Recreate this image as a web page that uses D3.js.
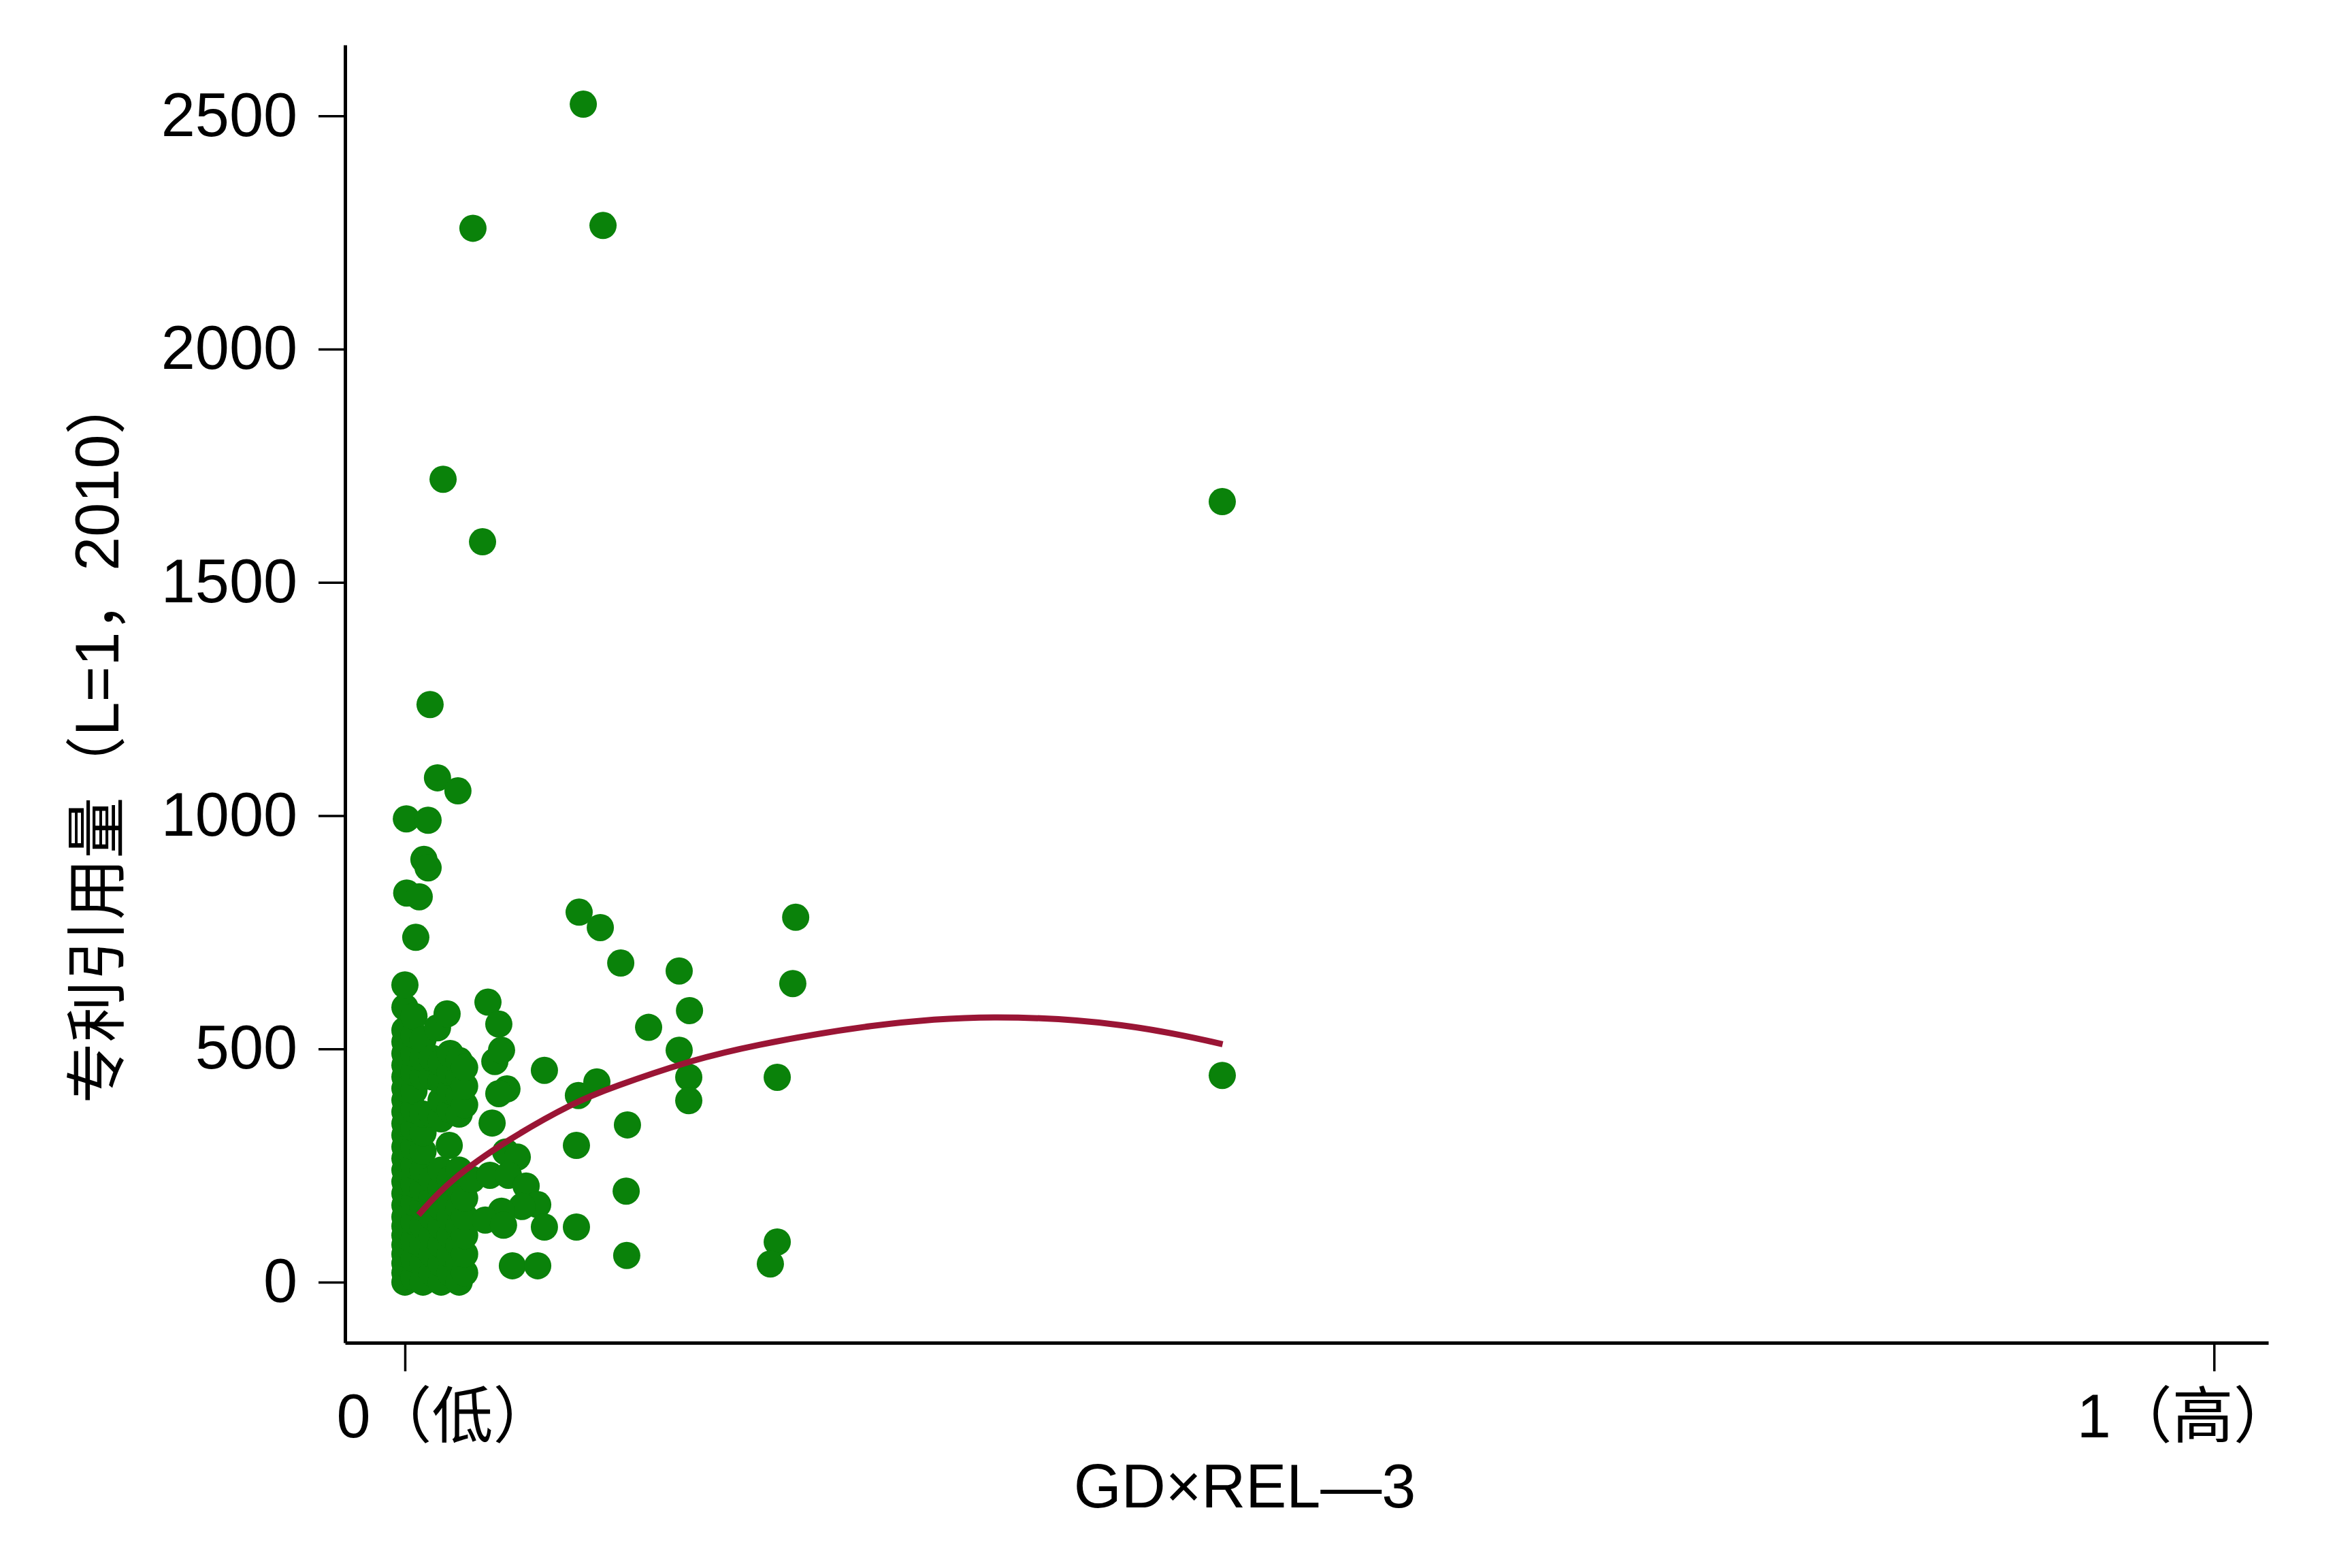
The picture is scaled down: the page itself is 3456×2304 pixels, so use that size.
<!DOCTYPE html>
<html>
<head>
<meta charset="utf-8">
<script src="https://cdn.jsdelivr.net/npm/d3@7"></script>
<style>
    body { margin: 0; background: #ffffff; }
    text { font-family: "Liberation Sans", "Noto Sans CJK SC", sans-serif; }
</style>
</head>
<body>
<div id="chart"></div>
<script>
// axis ticks and titles
var yTicks = [0, 500, 1000, 1500, 2000, 2500];
var xTicks = [0, 1];
var xTickLabels = ["0（低）", "1（高）"];
var xTitle = "GD×REL—3";
var yTitle = "专利引用量（L=1，2010）";

// scattered firms, [GD×REL-3, patent citations]
var outliers = [
    [0.0986, 2525], [0.0376, 2259], [0.1095, 2265], [0.0211, 1721], [0.0429, 1587],
    [0.4518, 1673], [0.0139, 1238], [0.0180, 1081], [0.0293, 1053], [0.0008, 993],
    [0.0128, 990], [0.0105, 906], [0.0128, 888], [0.0010, 834], [0.0079, 826],
    [0.0060, 739], [0.0963, 793], [0.1080, 760], [0.2160, 782], [0.1193, 684],
    [0.1516, 667], [0.2144, 640], [0.1573, 582], [0.1347, 546], [0.1516, 497],
    [0.1569, 439], [0.1569, 389], [0.2058, 439], [0.4518, 443], [0.1230, 337],
    [0.1223, 195], [0.1226, 57], [0.2058, 86], [0.2020, 39], [0.0948, 293],
    [0.0948, 118], [0.0594, 35], [0.0734, 35], [0.0771, 454], [0.0959, 400],
    [0.1061, 429]
];

// points near the left edge, x < 0.08
var nearZero = [
    [0, 0], [0, 20], [0, 40], [0, 60], [0, 80], [0, 100], [0, 120], [0, 140], [0, 165],
    [0, 190], [0, 215], [0, 240], [0, 265], [0, 290], [0, 315], [0, 340], [0, 365],
    [0, 390], [0, 415], [0, 440], [0, 465], [0, 490], [0, 515], [0, 540], [0, 589], [0, 637],
    [0.005, 10], [0.005, 50], [0.005, 90], [0.005, 130], [0.005, 170], [0.005, 210],
    [0.005, 250], [0.005, 290], [0.005, 330], [0.005, 370], [0.005, 410], [0.005, 450],
    [0.005, 490], [0.005, 530], [0.005, 570],
    [0.010, 0], [0.010, 40], [0.010, 80], [0.010, 120], [0.010, 160], [0.010, 200],
    [0.010, 240], [0.010, 280], [0.010, 320], [0.010, 360], [0.010, 440], [0.010, 480], [0.010, 520],
    [0.015, 20], [0.015, 60], [0.015, 100], [0.015, 140], [0.015, 180], [0.015, 220],
    [0.015, 360], [0.015, 440], [0.015, 480],
    [0.020, 0], [0.020, 40], [0.020, 80], [0.020, 120], [0.020, 160], [0.020, 200],
    [0.020, 240], [0.020, 350], [0.020, 390], [0.020, 430], [0.020, 470], [0.018, 545],
    [0.025, 20], [0.025, 60], [0.025, 100], [0.025, 140], [0.025, 180], [0.025, 220],
    [0.0245, 293], [0.025, 370], [0.025, 410], [0.025, 450], [0.025, 490], [0.0233, 575],
    [0.030, 0], [0.030, 40], [0.030, 80], [0.030, 120], [0.030, 160], [0.030, 200],
    [0.030, 240], [0.030, 360], [0.030, 400], [0.030, 440], [0.030, 475],
    [0.033, 20], [0.033, 60], [0.033, 100], [0.033, 140], [0.033, 180], [0.037, 220],
    [0.033, 380], [0.033, 420], [0.033, 460],
    [0.0497, 473], [0.0564, 414], [0.0519, 404], [0.0482, 341], [0.0557, 279], [0.0621, 268],
    [0.0470, 229], [0.0572, 229], [0.0670, 206], [0.0734, 166], [0.0771, 118], [0.0647, 162],
    [0.0534, 152], [0.0444, 133], [0.0545, 122], [0.0459, 600], [0.0519, 553], [0.0534, 497]
];

// fit line
var fitX = [0.0075, 0.0245, 0.057, 0.0933, 0.1147, 0.157, 0.19, 0.2577, 0.324, 0.40, 0.452];
var fitY = [144, 218, 306, 385, 418, 474, 506, 553, 574, 555, 510];

var width = 3456;
var height = 2304;
var dotColor = "#0a820a";
var lineColor = "#9a1535";

var svg = d3.select("#chart").append("svg")
    .attr("width", width)
    .attr("height", height)
    .style("background", "#ffffff");

// setup x, and y scales
var x_scale = d3.scaleLinear().domain([-0.0331, 1.030]).range([507, 3333]);
var y_scale = d3.scaleLinear().domain([-130, 2652]).range([1973, 66]);

// points
var allPts = nearZero.concat(outliers);
svg.append("g").selectAll("circle")
    .data(allPts)
    .enter()
    .append("circle")
    .attr("cx", function (d) { return x_scale(d[0]); })
    .attr("cy", function (d) { return y_scale(d[1]); })
    .attr("r", 20)
    .style("fill", dotColor);

// fitted curve
var fitData = fitX.map(function (v, i) { return [v, fitY[i]]; });
var line = d3.line()
    .x(function (d) { return x_scale(d[0]); })
    .y(function (d) { return y_scale(d[1]); })
    .curve(d3.curveBasis);
svg.append("path")
    .datum(fitData)
    .attr("d", line)
    .attr("fill", "none")
    .attr("stroke", lineColor)
    .attr("stroke-width", 9)
    .attr("stroke-linecap", "butt");

// axes
var y_axis = d3.axisLeft(y_scale).tickValues(yTicks).tickSize(39).tickSizeOuter(0).tickPadding(31)
    .tickFormat(d3.format("d"));
var x_axis = d3.axisBottom(x_scale).tickValues(xTicks).tickSize(42).tickSizeOuter(0).tickPadding(33)
    .tickFormat(function (d, i) { return xTickLabels[i]; });

var gy = svg.append("g")
    .attr("transform", "translate(507,0)")
    .call(y_axis);
var gx = svg.append("g")
    .attr("transform", "translate(0,1973)")
    .call(x_axis);

[gx, gy].forEach(function (g) {
    g.attr("font-size", 90).attr("font-family", null);
    g.select(".domain").attr("stroke", "#000").attr("stroke-width", 5);
    g.selectAll(".tick line").attr("stroke", "#000").attr("stroke-width", 3.5);
    g.selectAll(".tick text").attr("fill", "#000");
});

// labels sit a bit off their ticks in the original
var xLabelShift = [59, -42];
gx.selectAll(".tick text").attr("dx", function (d, i) { return xLabelShift[i]; });

// axis titles
svg.append("text")
    .attr("x", 1829)
    .attr("y", 2215)
    .attr("text-anchor", "middle")
    .attr("font-size", 90)
    .attr("fill", "#000")
    .text(xTitle);

svg.append("text")
    .attr("transform", "translate(143,1085) rotate(-90)")
    .attr("text-anchor", "middle")
    .attr("dominant-baseline", "central")
    .attr("font-size", 90)
    .attr("fill", "#000")
    .text(yTitle);
</script>
</body>
</html>
